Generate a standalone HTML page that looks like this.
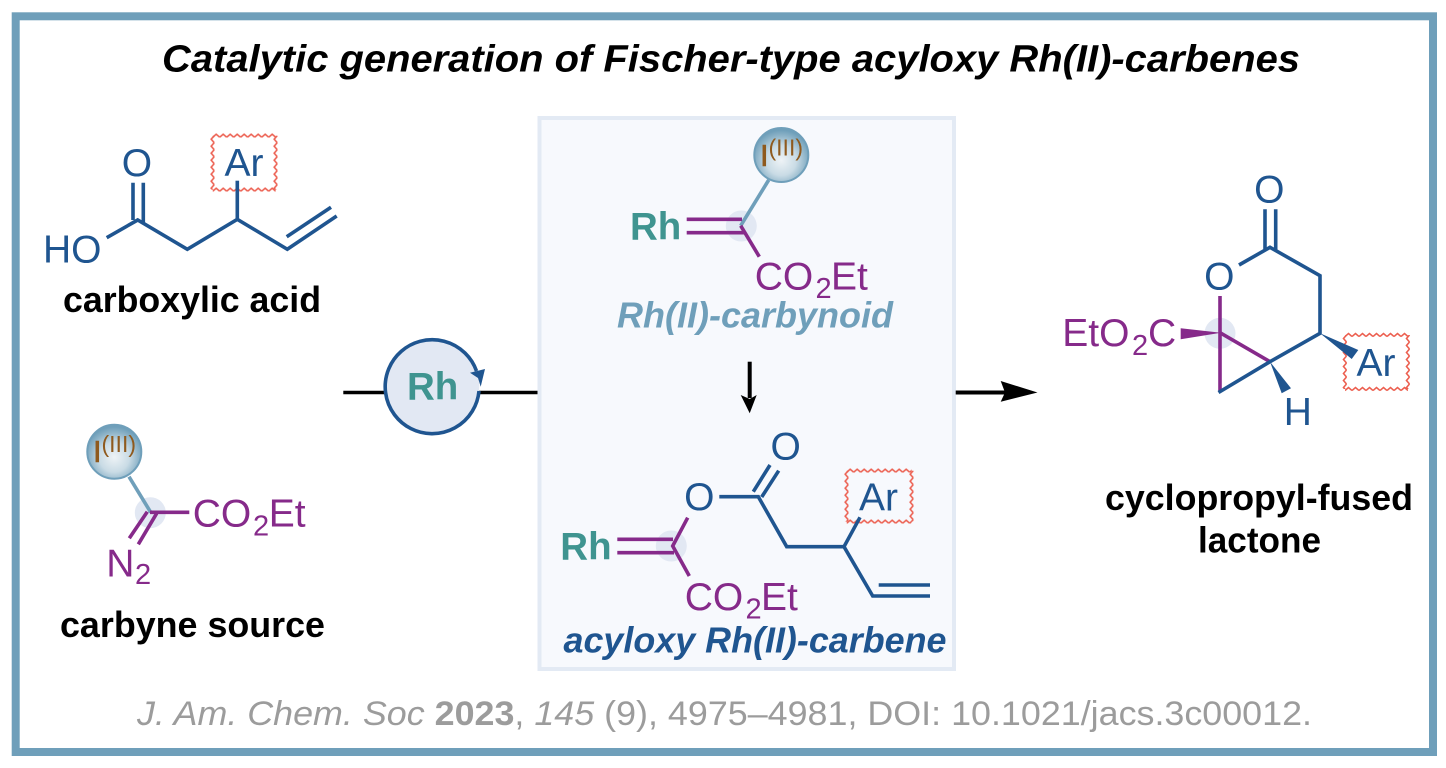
<!DOCTYPE html>
<html lang="en">
<head>
<meta charset="utf-8">
<title>Catalytic generation of Fischer-type acyloxy Rh(II)-carbenes</title>
<style>
html,body{margin:0;padding:0;background:#fff;width:1446px;height:768px;overflow:hidden}
svg{display:block}
text{font-family:"Liberation Sans",sans-serif}
.b{fill:#1f5590;font-size:39px}
.p{fill:#862a8a;font-size:39px}
.s{font-size:29px}
.t{fill:#3f9490;font-size:38.5px;font-weight:bold}
.l{fill:#000;font-size:36px;font-weight:bold}
.i1{fill:#8f5a1e;font-size:31px;stroke:#8f5a1e;stroke-width:.6px}
.i2{fill:#8f5a1e;font-size:23px}
</style>
</head>
<body>
<svg width="1446" height="768" viewBox="0 0 1446 768" xmlns="http://www.w3.org/2000/svg">
<defs>
<radialGradient id="ball" cx="0.5" cy="0.6" r="0.56">
<stop offset="0" stop-color="#eef3f6"/>
<stop offset="0.5" stop-color="#c9dbe5"/>
<stop offset="0.82" stop-color="#8db3c8"/>
<stop offset="1" stop-color="#6f9fba"/>
</radialGradient>
<pattern id="zh" patternUnits="userSpaceOnUse" x="0" y="-3" width="7" height="6">
<path d="M0,4.5L3.5,1.5L7,4.5" fill="none" stroke="#ec5f50" stroke-width="1.6"/>
</pattern>
<pattern id="zv" patternUnits="userSpaceOnUse" x="-3" y="0" width="6" height="7">
<path d="M4.5,0L1.5,3.5L4.5,7" fill="none" stroke="#ec5f50" stroke-width="1.6"/>
</pattern>
</defs>

<rect x="0" y="0" width="1446" height="768" fill="#fff"/>
<rect x="15.7" y="16.3" width="1417.3" height="735.7" fill="#fff" stroke="#6f9fba" stroke-width="8"/>

<text x="162" y="71.5" class="l" style="font-size:38px" font-style="italic" textLength="1138" lengthAdjust="spacingAndGlyphs">Catalytic generation of Fischer-type acyloxy Rh(II)-carbenes</text>

<!-- central panel -->
<rect x="539.5" y="118" width="414.5" height="551" fill="#f7f9fd" stroke="#e3eaf4" stroke-width="4"/>

<!-- carboxylic acid -->
<g transform="translate(212.7,135.7)">
<rect x="0" y="-3" width="63" height="6" fill="url(#zh)"/>
<g transform="translate(0,54)"><rect x="0" y="-3" width="63" height="6" fill="url(#zh)"/></g>
<rect x="-3" y="0" width="6" height="54" fill="url(#zv)"/>
<g transform="translate(63,0)"><rect x="-3" y="0" width="6" height="54" fill="url(#zv)"/></g>
</g>
<g fill="none" stroke="#1f5590" stroke-width="3.6">
<path d="M106.7,237.7L137.7,220L187.3,249.3L237.3,219.3L287.3,249.3L336.7,216"/>
<path d="M237.3,219.3V180.7"/>
<path d="M133,182.7V220M143.3,182.7V224"/>
<path d="M286.7,236.7L331,207.3"/>
</g>
<text x="121.8" y="176" class="b">O</text>
<text x="224.5" y="176" class="b">Ar</text>
<text x="43" y="262.7" class="b">HO</text>
<text x="63" y="312" class="l" textLength="258" lengthAdjust="spacingAndGlyphs">carboxylic acid</text>

<!-- carbyne source -->
<circle cx="150.3" cy="512.7" r="15.5" fill="#e2e8f3"/>
<path d="M129,476.7L150.7,512.3" fill="none" stroke="#6f9fba" stroke-width="3.6"/>
<circle cx="114.3" cy="451.7" r="27" fill="url(#ball)" stroke="#6f9fba" stroke-width="2"/>
<text x="93" y="462" class="i1">I</text>
<text x="101.5" y="452" class="i2">(III)</text>
<g fill="none" stroke="#862a8a" stroke-width="3.6">
<path d="M150,512.3H189.3"/>
<path d="M156.7,513.3L138.3,544.3M147.3,511.7L129.3,538.3"/>
</g>
<text x="192.7" y="526.7" class="p">CO</text>
<text x="253" y="535.7" class="p s">2</text>
<text x="268.7" y="526.7" class="p">Et</text>
<text x="106.3" y="576.7" class="p">N</text>
<text x="135" y="584" class="p s">2</text>
<text x="60" y="637" class="l" textLength="265" lengthAdjust="spacingAndGlyphs">carbyne source</text>

<!-- catalyst -->
<path d="M343.3,392.5H390M476,392.5H537.5" stroke="#000" stroke-width="3.6" fill="none"/>
<circle cx="432.3" cy="386" r="47" fill="#e2e8f3"/>
<path d="M479,391A47,47 0 1 1 476.5,371" fill="none" stroke="#1f5590" stroke-width="3.6"/>
<path d="M470,372.7L485,369L480.7,386.7L478,378Z" fill="#1f5590"/>
<text x="407" y="399.3" class="t">Rh</text>

<!-- carbynoid -->
<circle cx="741.3" cy="226" r="15.5" fill="#e2e8f3"/>
<path d="M768.7,180L740.7,225.7" fill="none" stroke="#6f9fba" stroke-width="3.6"/>
<circle cx="781.3" cy="155" r="27" fill="url(#ball)" stroke="#6f9fba" stroke-width="2"/>
<text x="760" y="165.8" class="i1">I</text>
<text x="768.5" y="155.5" class="i2">(III)</text>
<g fill="none" stroke="#862a8a" stroke-width="3.6">
<path d="M686.7,219.3H742M686.7,232.7H744"/>
<path d="M740.7,225.7L759.3,256.7"/>
</g>
<text x="630" y="239.3" class="t">Rh</text>
<text x="754.7" y="289.3" class="p">CO</text>
<text x="815.5" y="298" class="p s">2</text>
<text x="831" y="289.3" class="p">Et</text>
<text x="617" y="327.3" class="l" font-style="italic" style="fill:#6f9fba" textLength="276" lengthAdjust="spacingAndGlyphs">Rh(II)-carbynoid</text>

<!-- arrows -->
<path d="M749.7,361.7V398" stroke="#000" stroke-width="4" fill="none"/>
<path d="M740.7,395L749.7,399L756.7,395L749.7,413.3Z" fill="#000"/>
<path d="M955.7,392.5H1008" stroke="#000" stroke-width="4" fill="none"/>
<path d="M1000.7,381L1037.5,392.5L1000.7,401.7L1005,392.5Z" fill="#000"/>

<!-- acyloxy carbene -->
<circle cx="671.3" cy="546" r="15.5" fill="#e2e8f3"/>
<g transform="translate(846.7,470.7)">
<rect x="0" y="-3" width="65" height="6" fill="url(#zh)"/>
<g transform="translate(0,51)"><rect x="0" y="-3" width="65" height="6" fill="url(#zh)"/></g>
<rect x="-3" y="0" width="6" height="51" fill="url(#zv)"/>
<g transform="translate(65,0)"><rect x="-3" y="0" width="6" height="51" fill="url(#zv)"/></g>
</g>
<g fill="none" stroke="#1f5590" stroke-width="3.6">
<path d="M719.3,496.7H758.3L786.7,546.7H844L872.7,596H930"/>
<path d="M844,546.7L860,517.3"/>
<path d="M770,465L753.3,491.7M778.7,470.7L761.7,497"/>
<path d="M878.7,585H930"/>
</g>
<g fill="none" stroke="#862a8a" stroke-width="3.6">
<path d="M617.3,539.3H673M617.3,552.7H674"/>
<path d="M687.7,517.7L672.7,546L689.3,576"/>
</g>
<text x="770.5" y="459.3" class="b">O</text>
<text x="684.1" y="510" class="b">O</text>
<text x="859" y="510.7" class="b">Ar</text>
<text x="560.3" y="559.3" class="t">Rh</text>
<text x="684.7" y="610" class="p">CO</text>
<text x="745.5" y="618.7" class="p s">2</text>
<text x="761" y="610" class="p">Et</text>
<text x="563.5" y="652.3" class="l" font-style="italic" style="fill:#1f5590" textLength="383" lengthAdjust="spacingAndGlyphs">acyloxy Rh(II)-carbene</text>

<!-- product -->
<circle cx="1220" cy="333.3" r="15.5" fill="#e2e8f3"/>
<g transform="translate(1345,335)">
<rect x="0" y="-3" width="63" height="6" fill="url(#zh)"/>
<g transform="translate(0,54)"><rect x="0" y="-3" width="63" height="6" fill="url(#zh)"/></g>
<rect x="-3" y="0" width="6" height="54" fill="url(#zv)"/>
<g transform="translate(63,0)"><rect x="-3" y="0" width="6" height="54" fill="url(#zv)"/></g>
</g>
<g fill="none" stroke="#862a8a" stroke-width="3.6">
<path d="M1220,296V391.7"/>
<path d="M1220,332.7L1270,361.7"/>
</g>
<g fill="none" stroke="#1f5590" stroke-width="3.6">
<path d="M1239,265L1270,247.3L1320,275.7V333.3L1270,361.7L1218.5,392.5"/>
<path d="M1265,209.3V249M1275.7,209.3V250"/>
</g>
<path d="M1221,332.7L1180.7,328.3V339.3Z" fill="#862a8a"/>
<path d="M1270,361.7L1281.7,393.3L1291,388.3Z" fill="#1f5590"/>
<path d="M1320,333.3L1358.3,350L1351.7,359Z" fill="#1f5590"/>
<text x="1254.1" y="202.3" class="b">O</text>
<text x="1204.1" y="289.3" class="b">O</text>
<text x="1356.5" y="376" class="b">Ar</text>
<text x="1283.7" y="425" class="b">H</text>
<text x="1062.3" y="346" class="p">EtO</text>
<text x="1132" y="355" class="p s">2</text>
<text x="1148" y="346" class="p">C</text>
<text x="1105" y="510" class="l" textLength="308" lengthAdjust="spacingAndGlyphs">cyclopropyl-fused</text>
<text x="1198" y="552.7" class="l" textLength="123" lengthAdjust="spacingAndGlyphs">lactone</text>

<!-- citation -->
<text x="137" y="725" font-size="34" fill="#9c9c9c" textLength="1175" lengthAdjust="spacingAndGlyphs"><tspan font-style="italic">J. Am. Chem. Soc</tspan> <tspan font-weight="bold">2023</tspan>, <tspan font-style="italic">145</tspan> (9), 4975–4981, DOI: 10.1021/jacs.3c00012.</text>
</svg>
</body>
</html>
